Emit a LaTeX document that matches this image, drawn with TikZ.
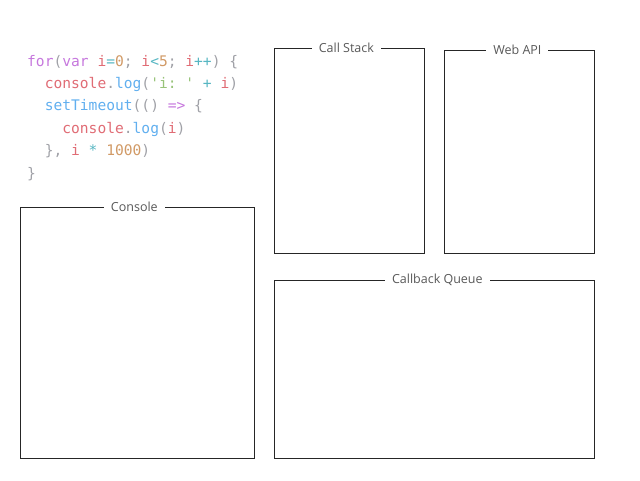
\documentclass[tikz,border=0pt]{standalone}
\usepackage{fontspec}
\setmainfont{Open Sans}
\setmonofont{DejaVu Sans Mono}
\definecolor{kwpurple}{HTML}{C678DD}
\definecolor{varred}{HTML}{E06C75}
\definecolor{numorange}{HTML}{D19A66}
\definecolor{opcyan}{HTML}{56B6C2}
\definecolor{fnblue}{HTML}{61AFEF}
\definecolor{strgreen}{HTML}{98C379}
\definecolor{punctgray}{HTML}{A0A1A7}
\newcommand{\kw}[1]{\textcolor{kwpurple}{#1}}
\newcommand{\vr}[1]{\textcolor{varred}{#1}}
\newcommand{\nm}[1]{\textcolor{numorange}{#1}}
\newcommand{\op}[1]{\textcolor{opcyan}{#1}}
\newcommand{\fn}[1]{\textcolor{fnblue}{#1}}
\newcommand{\st}[1]{\textcolor{strgreen}{#1}}
\newcommand{\pu}[1]{\textcolor{punctgray}{#1}}
\tikzset{
  panel/.style={draw=black!85, line width=0.7pt, anchor=north west, inner sep=0pt},
  paneltitle/.style={fill=white, font=\fontsize{12.5}{13}\selectfont, text=black!65, inner xsep=7pt, inner ysep=1pt},
  codeline/.style={anchor=base west, inner sep=0pt, font=\ttfamily\fontsize{14.6}{16}\selectfont}
}
\begin{document}
\begin{tikzpicture}[x=1pt, y=-1pt]
  \useasboundingbox (0,0) rectangle (640,480);
  % code
  \path
    (27,66)   node[codeline] (code1) {\kw{for}\pu{(}\kw{var} \vr{i}\op{=}\nm{0}\pu{;} \vr{i}\op{<}\nm{5}\pu{;} \vr{i}\op{++}\pu{)} \pu{\{}}
    (27,88.4) node[codeline] (code2) {\phantom{xx}\vr{console}\pu{.}\fn{log}\pu{(}\st{'i: '} \op{+} \vr{i}\pu{)}}
    (27,110.8) node[codeline] (code3) {\phantom{xx}\fn{setTimeout}\pu{(() }\kw{=>} \pu{\{}}
    (27,133.2) node[codeline] (code4) {\phantom{xxxx}\vr{console}\pu{.}\fn{log}\pu{(}\vr{i}\pu{)}}
    (27,155.6) node[codeline] (code5) {\phantom{xx}\pu{\},} \vr{i} \op{*} \nm{1000}\pu{)}}
    (27,178)  node[codeline] (code6) {\pu{\}}};
  % panels
  \path
    (274,48)  node[panel, minimum width=150pt, minimum height=205pt] (stack) {}
    (444,50)  node[panel, minimum width=150pt, minimum height=203pt] (webapi) {}
    (20,207)  node[panel, minimum width=234pt, minimum height=251pt] (console) {}
    (274,280) node[panel, minimum width=320pt, minimum height=178pt] (queue) {};
  \node[paneltitle] (stacktitle) at ([xshift=-3pt]stack.north) {Call Stack};
  \node[paneltitle] (webapititle) at ([xshift=-2pt]webapi.north) {Web API};
  \node[paneltitle] (consoletitle) at ([xshift=-3pt]console.north) {Console};
  \node[paneltitle] (queuetitle) at ([xshift=3pt]queue.north) {Callback Queue};
\end{tikzpicture}
\end{document}
